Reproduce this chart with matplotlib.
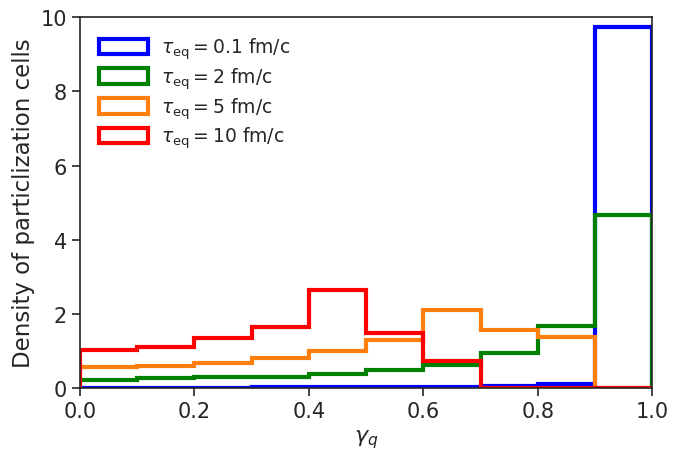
import matplotlib
matplotlib.use("Agg")
import matplotlib.pyplot as plt
import numpy as np

# gamma_q bin edges and density per bin
bin_edges = [0.0, 0.1, 0.2, 0.3, 0.4, 0.5, 0.6, 0.7, 0.8, 0.9, 1.0]
dens_tau01 = [0.01, 0.01, 0.01, 0.02, 0.02, 0.03, 0.03, 0.05, 0.10, 9.72]
dens_tau2 = [0.23, 0.27, 0.29, 0.31, 0.38, 0.50, 0.63, 0.94, 1.68, 4.67]
dens_tau5 = [0.56, 0.60, 0.67, 0.80, 1.01, 1.29, 2.10, 1.57, 1.38, 0.0]
dens_tau10 = [1.02, 1.11, 1.35, 1.64, 2.65, 1.48, 0.74, 0.0, 0.0, 0.0]

series = [
    (dens_tau01, "blue", r"$\tau_{\mathrm{eq}} = 0.1$ fm/c"),
    (dens_tau2, "green", r"$\tau_{\mathrm{eq}} = 2$ fm/c"),
    (dens_tau5, "#ff7f0e", r"$\tau_{\mathrm{eq}} = 5$ fm/c"),
    (dens_tau10, "red", r"$\tau_{\mathrm{eq}} = 10$ fm/c"),
]

plt.rcParams["text.color"] = "#262626"
plt.rcParams["axes.labelcolor"] = "#262626"

fig = plt.figure(figsize=(6.96, 4.52), dpi=100)
ax = fig.add_axes([0.115, 0.139, 0.822, 0.821])

centers = 0.5 * (np.array(bin_edges[:-1]) + np.array(bin_edges[1:]))
for vals, col, lab in series:
    ax.hist(centers, bins=bin_edges, weights=vals, histtype="step",
            color=col, linewidth=3, label=lab)

ax.set_xlim(0, 1)
ax.set_ylim(0, 10)
ax.set_xticks([0.0, 0.2, 0.4, 0.6, 0.8, 1.0])
ax.set_yticks([0, 2, 4, 6, 8, 10])
ax.tick_params(direction="out", length=6, width=1.2, labelsize=15, colors="#262626")
for s in ax.spines.values():
    s.set_color("#262626")
    s.set_linewidth(1.2)

ax.set_xlabel(r"$\gamma_q$", fontsize=16)
ax.set_ylabel("Density of particlization cells", fontsize=16.5)

ax.legend(loc="upper left", frameon=False, fontsize=13.5, handlelength=2.6,
          handleheight=0.9, labelspacing=0.22, handletextpad=0.7,
          borderaxespad=0.6)

fig.savefig("out.png", dpi=100)
